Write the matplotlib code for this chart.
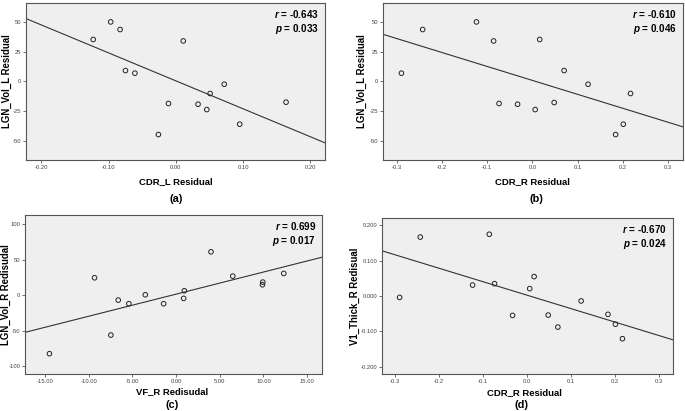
import matplotlib.pyplot as plt
import numpy as np

# residuals
cdr_l = [-0.123, -0.097, -0.083, -0.075, -0.061, 0.011, -0.026, -0.011,
         0.033, 0.046, 0.051, 0.072, 0.095, 0.164]
lgn_l_a = [35.2, 50.0, 43.6, 9.1, 6.9, 34.0, -44.7, -18.6,
           -19.2, -23.7, -10.2, -2.4, -36.0, -17.5]

cdr_r = [-0.290, -0.243, -0.124, -0.086, -0.074, -0.033, 0.006, 0.016,
         0.048, 0.070, 0.123, 0.184, 0.201, 0.217]
lgn_l_b = [6.9, 43.6, 50.0, 34.0, -18.6, -19.2, -23.7, 35.2,
           -17.8, 9.1, -2.4, -44.7, -36.0, -10.2]

vf_r = [-14.5, -9.34, -7.47, -6.63, -5.41, -3.53, -1.43, 0.86,
        0.94, 3.99, 6.48, 9.92, 9.88, 12.32]
lgn_r = [-82.2, 24.6, -56.0, -6.8, -11.9, 0.7, -11.9, -4.4,
         6.3, 61.1, 26.9, 18.5, 14.8, 30.7]

v1_r = [-0.004, 0.167, 0.031, 0.175, 0.035, -0.055, 0.021, 0.055,
        -0.054, -0.088, -0.014, -0.052, -0.080, -0.121]

# fit lines as drawn in the figure: (slope, intercept)
fit_a = (-234.8, 0.44)
fit_b = (-117.2, 0.8)
fit_c = (3.11, 1.6)
fit_d = (-0.381, 0.0023)

plt.rcParams['font.family'] = 'Liberation Sans'
plt.rcParams['mathtext.fontset'] = 'custom'
plt.rcParams['mathtext.it'] = 'Liberation Sans:italic:bold'

fig = plt.figure(figsize=(6.85, 4.11), dpi=100)

panels = [
    dict(pos=[0.038, 0.611, 0.4365, 0.382], x=cdr_l, y=lgn_l_a, fit=fit_a,
         xlim=(-0.223, 0.222), ylim=(-66, 66),
         xt=[-0.2, -0.1, 0.0, 0.1, 0.2], xfmt='{:.2f}',
         yt=[-50, -25, 0, 25, 50], yfmt='{:.0f}',
         xl='CDR_L Residual', yl='LGN_Vol_L Residual',
         r='-0.643', p='0.033', tag='(a)',
         xlpos=(0.502, -0.140), tagpos=(0.502, -0.248), ylx=-0.064),
    dict(pos=[0.559, 0.611, 0.438, 0.382], x=cdr_r, y=lgn_l_b, fit=fit_b,
         xlim=(-0.331, 0.333), ylim=(-66, 66),
         xt=[-0.3, -0.2, -0.1, 0.0, 0.1, 0.2, 0.3], xfmt='{:.1f}',
         yt=[-50, -25, 0, 25, 50], yfmt='{:.0f}',
         xl='CDR_R Residual', yl='LGN_Vol_L Residual',
         r='-0.610', p='0.046', tag='(b)',
         xlpos=(0.5, -0.140), tagpos=(0.512, -0.248), ylx=-0.07),
    dict(pos=[0.0365, 0.090, 0.4336, 0.387], x=vf_r, y=lgn_r, fit=fit_c,
         xlim=(-17.3, 16.7), ylim=(-110.8, 113),
         xt=[-15, -10, -5, 0, 5, 10, 15], xfmt='{:.2f}',
         yt=[-100, -50, 0, 50, 100], yfmt='{:.0f}',
         xl='VF_R Redisudal', yl='LGN_Vol_R Redisudal',
         r='0.699', p='0.017', tag='(c)',
         xlpos=(0.495, -0.113), tagpos=(0.497, -0.195), ylx=-0.064),
    dict(pos=[0.5577, 0.090, 0.4248, 0.3796], x=cdr_r, y=v1_r, fit=fit_d,
         xlim=(-0.330, 0.332), ylim=(-0.221, 0.221),
         xt=[-0.3, -0.2, -0.1, 0.0, 0.1, 0.2, 0.3], xfmt='{:.1f}',
         yt=[-0.2, -0.1, 0.0, 0.1, 0.2], yfmt='{:.3f}',
         xl='CDR_R Residual', yl='V1_Thick_R Redisual',
         r='-0.670', p='0.024', tag='(d)',
         xlpos=(0.488, -0.122), tagpos=(0.481, -0.199), ylx=-0.093),
]

for pn in panels:
    ax = fig.add_axes(pn['pos'])
    ax.set_facecolor('#efefef')
    for s in ax.spines.values():
        s.set_color('#555555')
        s.set_linewidth(0.8)
    k, b = pn['fit']
    xs = np.array(pn['xlim'])
    ax.plot(xs, k * xs + b, color='#333333', lw=0.8)
    ax.scatter(pn['x'], pn['y'], s=11, facecolors='none', edgecolors='#222222',
               linewidths=0.7, zorder=3)
    ax.set_xlim(pn['xlim'])
    ax.set_ylim(pn['ylim'])
    ax.set_xticks(pn['xt'])
    ax.set_xticklabels([pn['xfmt'].format(v) for v in pn['xt']])
    ax.set_yticks(pn['yt'])
    ax.set_yticklabels([pn['yfmt'].format(v) for v in pn['yt']])
    ax.tick_params(labelsize=4.2, length=2, width=0.6, color='#555555',
                   labelcolor='#444444', pad=1.5)
    ax.set_xlabel(pn['xl'], fontsize=6.8, fontweight='bold')
    ax.xaxis.set_label_coords(*pn['xlpos'])
    ax.xaxis.label.set_va('center')
    ax.set_ylabel(pn['yl'], fontsize=6.9, fontweight='bold')
    ax.yaxis.set_label_coords(pn['ylx'], 0.5)
    ax.yaxis.label.set_va('center')
    ax.text(0.98, 0.928, r'$\mathit{r}$ = ' + pn['r'], transform=ax.transAxes,
            ha='right', va='center', fontsize=7.1, fontweight='bold')
    ax.text(0.98, 0.835, r'$\mathit{p}$ = ' + pn['p'], transform=ax.transAxes,
            ha='right', va='center', fontsize=7.1, fontweight='bold')
    ax.text(pn['tagpos'][0], pn['tagpos'][1], pn['tag'], transform=ax.transAxes,
            ha='center', va='center', fontsize=7.8, fontweight='bold')

fig.savefig('out.png', dpi=100)
